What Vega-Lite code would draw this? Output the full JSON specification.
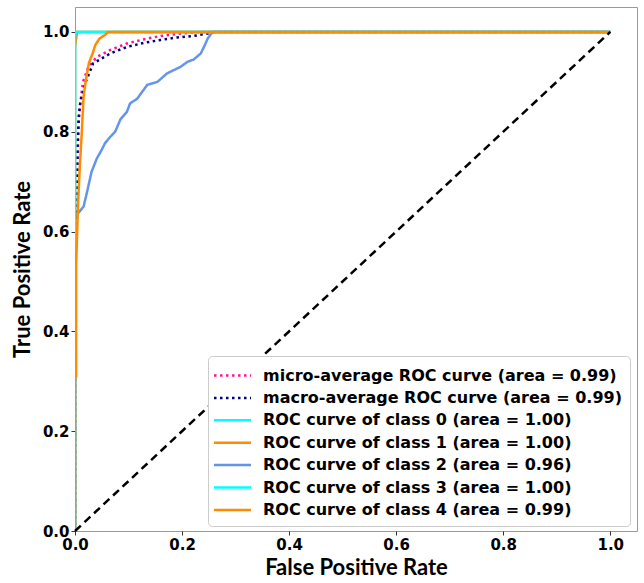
{
  "$schema": "https://vega.github.io/schema/vega-lite/v6.json",
  "width": 562,
  "height": 524,
  "autosize": "none",
  "padding": {"left": 75, "top": 7, "right": 7, "bottom": 52},
  "background": "white",
  "config": {
    "view": {"stroke": "#999", "strokeWidth": 1},
    "axis": {"grid": false, "domain": false, "tickColor": "#333", "tickSize": 4, "labelFont": "DejaVu Sans", "labelFontWeight": "bold", "labelFontSize": 15, "labelColor": "black", "labelOverlap": false, "labelFlush": false, "titleFont": "Lato", "titleFontWeight": "bold", "titleFontSize": 22, "titleColor": "black"}
  },
  "datasets": {
    "roc": [
      {"series": "micro-average ROC curve (area = 0.99)", "fpr": 0, "tpr": 0},
      {"series": "micro-average ROC curve (area = 0.99)", "fpr": 0, "tpr": 0.55},
      {"series": "micro-average ROC curve (area = 0.99)", "fpr": 0.003, "tpr": 0.6},
      {"series": "micro-average ROC curve (area = 0.99)", "fpr": 0.005, "tpr": 0.75},
      {"series": "micro-average ROC curve (area = 0.99)", "fpr": 0.007, "tpr": 0.82},
      {"series": "micro-average ROC curve (area = 0.99)", "fpr": 0.009, "tpr": 0.85},
      {"series": "micro-average ROC curve (area = 0.99)", "fpr": 0.015, "tpr": 0.9},
      {"series": "micro-average ROC curve (area = 0.99)", "fpr": 0.025, "tpr": 0.93},
      {"series": "micro-average ROC curve (area = 0.99)", "fpr": 0.041, "tpr": 0.95},
      {"series": "micro-average ROC curve (area = 0.99)", "fpr": 0.066, "tpr": 0.964},
      {"series": "micro-average ROC curve (area = 0.99)", "fpr": 0.097, "tpr": 0.977},
      {"series": "micro-average ROC curve (area = 0.99)", "fpr": 0.128, "tpr": 0.985},
      {"series": "micro-average ROC curve (area = 0.99)", "fpr": 0.16, "tpr": 0.992},
      {"series": "micro-average ROC curve (area = 0.99)", "fpr": 0.191, "tpr": 0.996},
      {"series": "micro-average ROC curve (area = 0.99)", "fpr": 0.222, "tpr": 0.999},
      {"series": "micro-average ROC curve (area = 0.99)", "fpr": 0.235, "tpr": 1},
      {"series": "micro-average ROC curve (area = 0.99)", "fpr": 1, "tpr": 1},
      {"series": "macro-average ROC curve (area = 0.99)", "fpr": 0, "tpr": 0},
      {"series": "macro-average ROC curve (area = 0.99)", "fpr": 0, "tpr": 0.55},
      {"series": "macro-average ROC curve (area = 0.99)", "fpr": 0.003, "tpr": 0.65},
      {"series": "macro-average ROC curve (area = 0.99)", "fpr": 0.005, "tpr": 0.78},
      {"series": "macro-average ROC curve (area = 0.99)", "fpr": 0.007, "tpr": 0.83},
      {"series": "macro-average ROC curve (area = 0.99)", "fpr": 0.01, "tpr": 0.86},
      {"series": "macro-average ROC curve (area = 0.99)", "fpr": 0.02, "tpr": 0.9},
      {"series": "macro-average ROC curve (area = 0.99)", "fpr": 0.034, "tpr": 0.937},
      {"series": "macro-average ROC curve (area = 0.99)", "fpr": 0.066, "tpr": 0.957},
      {"series": "macro-average ROC curve (area = 0.99)", "fpr": 0.097, "tpr": 0.97},
      {"series": "macro-average ROC curve (area = 0.99)", "fpr": 0.128, "tpr": 0.978},
      {"series": "macro-average ROC curve (area = 0.99)", "fpr": 0.16, "tpr": 0.984},
      {"series": "macro-average ROC curve (area = 0.99)", "fpr": 0.191, "tpr": 0.989},
      {"series": "macro-average ROC curve (area = 0.99)", "fpr": 0.222, "tpr": 0.992},
      {"series": "macro-average ROC curve (area = 0.99)", "fpr": 0.248, "tpr": 0.997},
      {"series": "macro-average ROC curve (area = 0.99)", "fpr": 0.26, "tpr": 1},
      {"series": "macro-average ROC curve (area = 0.99)", "fpr": 1, "tpr": 1},
      {"series": "ROC curve of class 0 (area = 1.00)", "fpr": 0, "tpr": 0},
      {"series": "ROC curve of class 0 (area = 1.00)", "fpr": 0, "tpr": 1},
      {"series": "ROC curve of class 0 (area = 1.00)", "fpr": 1, "tpr": 1},
      {"series": "ROC curve of class 1 (area = 1.00)", "fpr": 0, "tpr": 0},
      {"series": "ROC curve of class 1 (area = 1.00)", "fpr": 0, "tpr": 0.97},
      {"series": "ROC curve of class 1 (area = 1.00)", "fpr": 0.004, "tpr": 1},
      {"series": "ROC curve of class 1 (area = 1.00)", "fpr": 1, "tpr": 1},
      {"series": "ROC curve of class 2 (area = 0.96)", "fpr": 0, "tpr": 0},
      {"series": "ROC curve of class 2 (area = 0.96)", "fpr": 0, "tpr": 0.63},
      {"series": "ROC curve of class 2 (area = 0.96)", "fpr": 0.006, "tpr": 0.637},
      {"series": "ROC curve of class 2 (area = 0.96)", "fpr": 0.016, "tpr": 0.65},
      {"series": "ROC curve of class 2 (area = 0.96)", "fpr": 0.022, "tpr": 0.677},
      {"series": "ROC curve of class 2 (area = 0.96)", "fpr": 0.031, "tpr": 0.72},
      {"series": "ROC curve of class 2 (area = 0.96)", "fpr": 0.041, "tpr": 0.747},
      {"series": "ROC curve of class 2 (area = 0.96)", "fpr": 0.05, "tpr": 0.764},
      {"series": "ROC curve of class 2 (area = 0.96)", "fpr": 0.056, "tpr": 0.777},
      {"series": "ROC curve of class 2 (area = 0.96)", "fpr": 0.066, "tpr": 0.79},
      {"series": "ROC curve of class 2 (area = 0.96)", "fpr": 0.075, "tpr": 0.8},
      {"series": "ROC curve of class 2 (area = 0.96)", "fpr": 0.085, "tpr": 0.825},
      {"series": "ROC curve of class 2 (area = 0.96)", "fpr": 0.097, "tpr": 0.84},
      {"series": "ROC curve of class 2 (area = 0.96)", "fpr": 0.103, "tpr": 0.857},
      {"series": "ROC curve of class 2 (area = 0.96)", "fpr": 0.116, "tpr": 0.866},
      {"series": "ROC curve of class 2 (area = 0.96)", "fpr": 0.135, "tpr": 0.894},
      {"series": "ROC curve of class 2 (area = 0.96)", "fpr": 0.154, "tpr": 0.9},
      {"series": "ROC curve of class 2 (area = 0.96)", "fpr": 0.172, "tpr": 0.917},
      {"series": "ROC curve of class 2 (area = 0.96)", "fpr": 0.197, "tpr": 0.93},
      {"series": "ROC curve of class 2 (area = 0.96)", "fpr": 0.21, "tpr": 0.94},
      {"series": "ROC curve of class 2 (area = 0.96)", "fpr": 0.222, "tpr": 0.945},
      {"series": "ROC curve of class 2 (area = 0.96)", "fpr": 0.235, "tpr": 0.957},
      {"series": "ROC curve of class 2 (area = 0.96)", "fpr": 0.241, "tpr": 0.97},
      {"series": "ROC curve of class 2 (area = 0.96)", "fpr": 0.248, "tpr": 0.987},
      {"series": "ROC curve of class 2 (area = 0.96)", "fpr": 0.257, "tpr": 1},
      {"series": "ROC curve of class 2 (area = 0.96)", "fpr": 1, "tpr": 1},
      {"series": "ROC curve of class 3 (area = 1.00)", "fpr": 0, "tpr": 0},
      {"series": "ROC curve of class 3 (area = 1.00)", "fpr": 0, "tpr": 0.99},
      {"series": "ROC curve of class 3 (area = 1.00)", "fpr": 0.002, "tpr": 1},
      {"series": "ROC curve of class 3 (area = 1.00)", "fpr": 1, "tpr": 1},
      {"series": "ROC curve of class 4 (area = 0.99)", "fpr": 0, "tpr": 0},
      {"series": "ROC curve of class 4 (area = 0.99)", "fpr": 0, "tpr": 0.31},
      {"series": "ROC curve of class 4 (area = 0.99)", "fpr": 0.002, "tpr": 0.31},
      {"series": "ROC curve of class 4 (area = 0.99)", "fpr": 0.002, "tpr": 0.53},
      {"series": "ROC curve of class 4 (area = 0.99)", "fpr": 0.004, "tpr": 0.597},
      {"series": "ROC curve of class 4 (area = 0.99)", "fpr": 0.006, "tpr": 0.663},
      {"series": "ROC curve of class 4 (area = 0.99)", "fpr": 0.009, "tpr": 0.73},
      {"series": "ROC curve of class 4 (area = 0.99)", "fpr": 0.0126, "tpr": 0.797},
      {"series": "ROC curve of class 4 (area = 0.99)", "fpr": 0.016, "tpr": 0.87},
      {"series": "ROC curve of class 4 (area = 0.99)", "fpr": 0.019, "tpr": 0.894},
      {"series": "ROC curve of class 4 (area = 0.99)", "fpr": 0.022, "tpr": 0.914},
      {"series": "ROC curve of class 4 (area = 0.99)", "fpr": 0.026, "tpr": 0.938},
      {"series": "ROC curve of class 4 (area = 0.99)", "fpr": 0.033, "tpr": 0.957},
      {"series": "ROC curve of class 4 (area = 0.99)", "fpr": 0.038, "tpr": 0.974},
      {"series": "ROC curve of class 4 (area = 0.99)", "fpr": 0.046, "tpr": 0.987},
      {"series": "ROC curve of class 4 (area = 0.99)", "fpr": 0.056, "tpr": 0.994},
      {"series": "ROC curve of class 4 (area = 0.99)", "fpr": 0.062, "tpr": 1},
      {"series": "ROC curve of class 4 (area = 0.99)", "fpr": 1, "tpr": 1}
    ],
    "diag": [
      {"fpr": 0, "tpr": 0},
      {"fpr": 1, "tpr": 1}
    ]
  },
  "layer": [
    {
      "data": {"name": "roc"},
      "mark": {"type": "line", "strokeWidth": 2.5, "clip": true},
      "encoding": {
        "x": {"field": "fpr", "type": "quantitative", "scale": {"domain": [0, 1.05], "nice": false, "zero": false}, "axis": {"values": [0, 0.2, 0.4, 0.6, 0.8, 1.0], "format": ".1f", "title": "False Positive Rate", "titlePadding": 5}},
        "y": {"field": "tpr", "type": "quantitative", "scale": {"domain": [0, 1.05], "nice": false, "zero": false}, "axis": {"values": [0, 0.2, 0.4, 0.6, 0.8, 1.0], "format": ".1f", "title": "True Positive Rate", "titlePadding": 8}},
        "order": {"field": "fpr", "type": "quantitative"},
        "color": {
          "field": "series", "type": "nominal",
          "scale": {
            "domain": ["micro-average ROC curve (area = 0.99)", "macro-average ROC curve (area = 0.99)", "ROC curve of class 0 (area = 1.00)", "ROC curve of class 1 (area = 1.00)", "ROC curve of class 2 (area = 0.96)", "ROC curve of class 3 (area = 1.00)", "ROC curve of class 4 (area = 0.99)"],
            "range": ["deeppink", "navy", "aqua", "darkorange", "cornflowerblue", "aqua", "darkorange"]
          },
          "legend": {
            "title": null, "orient": "none", "legendX": 133, "legendY": 349,
            "symbolType": "M-1.85,0H1.85", "symbolSize": 400, "symbolStrokeWidth": 2.5, "symbolOffset": 5,
            "labelFont": "DejaVu Sans", "labelFontWeight": "bold", "labelFontSize": 16, "labelColor": "black", "labelLimit": 500, "labelOffset": 19,
            "padding": 8, "strokeColor": "#ccc", "fillColor": "white", "cornerRadius": 4, "rowPadding": 2.4
          }
        },
        "strokeDash": {
          "field": "series", "type": "nominal",
          "scale": {
            "domain": ["micro-average ROC curve (area = 0.99)", "macro-average ROC curve (area = 0.99)", "ROC curve of class 0 (area = 1.00)", "ROC curve of class 1 (area = 1.00)", "ROC curve of class 2 (area = 0.96)", "ROC curve of class 3 (area = 1.00)", "ROC curve of class 4 (area = 0.99)"],
            "range": [[2.5, 3.5], [2.5, 3.5], [1, 0], [1, 0], [1, 0], [1, 0], [1, 0]]
          },
          "legend": null
        }
      }
    },
    {
      "data": {"name": "diag"},
      "mark": {"type": "line", "color": "black", "strokeWidth": 2.5, "strokeDash": [8, 5]},
      "encoding": {
        "x": {"field": "fpr", "type": "quantitative"},
        "y": {"field": "tpr", "type": "quantitative"}
      }
    }
  ]
}
